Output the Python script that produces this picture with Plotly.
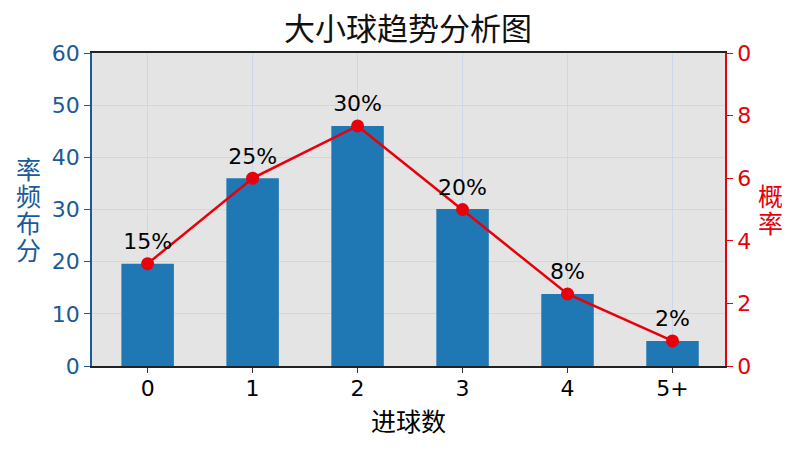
import plotly.graph_objects as go

# data
goals = ["0", "1", "2", "3", "4", "5+"]
freq = [19.6, 36.0, 46.0, 30.1, 13.8, 4.8]
prob = [3.27, 6.0, 7.67, 5.0, 2.3, 0.8]
pct_labels = ["15%", "25%", "30%", "20%", "8%", "2%"]
right_tickvals = [0, 2, 4, 6, 8, 10]
right_ticktext = ["0", "2", "4", "6", "8", "0"]
left_title = ["率", "频", "布", "分"]
right_title = ["概", "率"]

BLUE = "#1f77b4"
AXBLUE = "#1a5a9a"
RED = "#e8000b"
FONT = "DejaVu Sans, Noto Sans CJK SC"

fig = go.Figure()
fig.add_trace(go.Bar(x=goals, y=freq, width=0.5, marker_color=BLUE,
                     marker_line_width=0, yaxis="y", showlegend=False))
fig.add_trace(go.Scatter(x=goals, y=prob, mode="lines+markers+text", yaxis="y2",
                         line=dict(color=RED, width=2.5),
                         marker=dict(color=RED, size=13),
                         text=pct_labels, textposition="top center",
                         textfont=dict(size=22, color="black", family=FONT),
                         showlegend=False, cliponaxis=False))

# stacked (upright) axis titles, one character per annotation
notes = []
for i, ch in enumerate(left_title):
    notes.append(dict(text=ch, xref="paper", yref="paper", x=-0.101, xanchor="center",
                      y=(366 - 170 - 27 * i) / 313, yanchor="middle", showarrow=False,
                      font=dict(size=25, color=AXBLUE)))
for i, ch in enumerate(right_title):
    notes.append(dict(text=ch, xref="paper", yref="paper", x=(770 - 92) / 633, xanchor="center",
                      y=(366 - 197 - 27 * i) / 313, yanchor="middle", showarrow=False,
                      font=dict(size=25, color=RED)))

fig.update_layout(
    width=800, height=450,
    margin=dict(l=84, r=83, t=45, b=92),
    paper_bgcolor="white",
    plot_bgcolor="#e4e4e4",
    font=dict(family=FONT, size=22, color="black"),
    title=dict(text="大小球趋势分析图", x=0.5, xanchor="center", y=0.953, yanchor="middle",
               font=dict(size=31, color="#111111")),
    xaxis=dict(title=dict(text="进球数", font=dict(size=25), standoff=13),
               automargin=False,
               showgrid=True, gridcolor="#ccd8e9", gridwidth=1,
               ticks="outside", ticklen=5, tickcolor="#333", ticklabelstandoff=-3,
               showline=True, linecolor="#222", linewidth=1.5, mirror=True,
               range=[-0.53, 5.5]),
    yaxis=dict(range=[0, 60], dtick=10, tickfont=dict(color=AXBLUE, size=22),
               automargin=False,
               showgrid=True, gridcolor="#ccd8e9", gridwidth=1, zeroline=False,
               ticks="outside", ticklen=6, tickcolor=AXBLUE,
               showline=True, linecolor=AXBLUE, linewidth=1.5),
    yaxis2=dict(range=[0, 10], overlaying="y", side="right",
                automargin=False,
                tickvals=right_tickvals, ticktext=right_ticktext,
                tickfont=dict(color=RED, size=22), showgrid=False, zeroline=False,
                ticks="outside", ticklen=6, tickcolor=RED,
                showline=True, linecolor=RED, linewidth=1.5),
    annotations=notes,
)

fig.write_html("out.html")
